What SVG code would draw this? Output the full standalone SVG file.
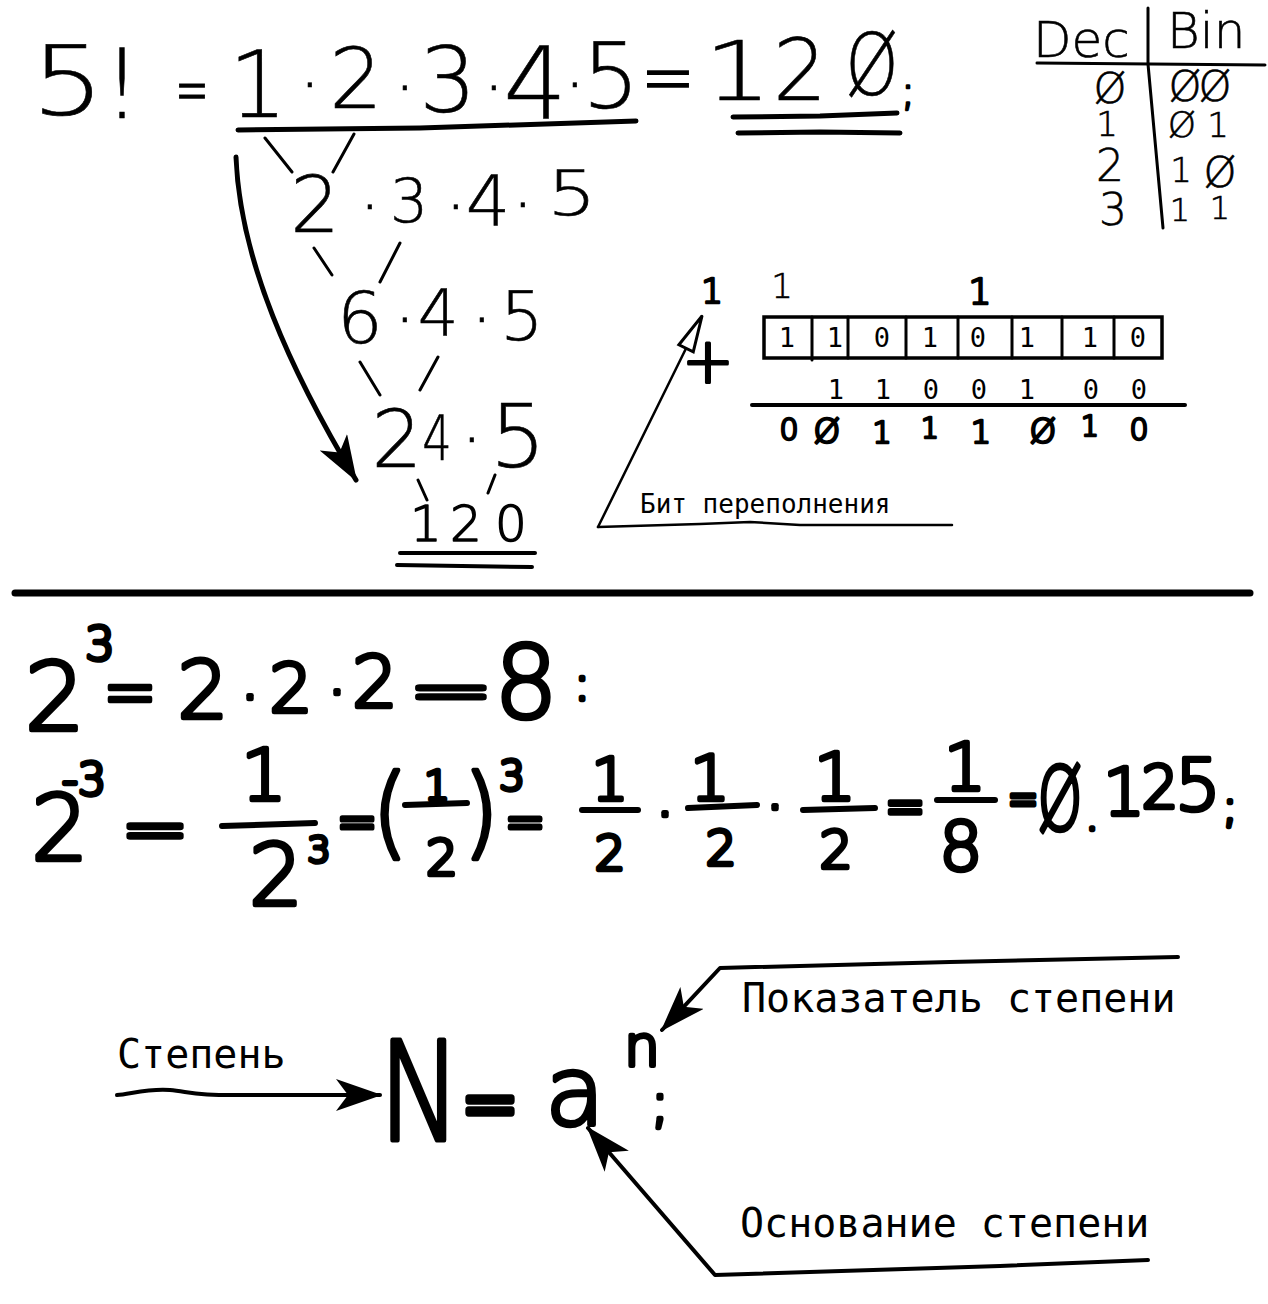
<svg xmlns="http://www.w3.org/2000/svg" width="1268" height="1304" viewBox="0 0 1268 1304">
<style>
.t{font-family:"DejaVu Sans",sans-serif;font-weight:200;fill:#000;stroke:#000;stroke-width:0.6;text-anchor:middle}
.p{font-family:"DejaVu Sans",sans-serif;font-weight:200;fill:#000;stroke:#000;stroke-width:4.5;stroke-linejoin:round;stroke-linecap:round;text-anchor:middle}
.q{font-family:"DejaVu Sans",sans-serif;font-weight:200;fill:#000;stroke:#000;stroke-width:2.6;stroke-linejoin:round;stroke-linecap:round;text-anchor:middle}
.m{font-family:"DejaVu Sans Mono",monospace;fill:#000}
.mc{font-family:"DejaVu Sans Mono",monospace;fill:#000;text-anchor:middle}
.ln{fill:none;stroke:#000;stroke-linecap:round;stroke-linejoin:round}
</style>
<defs>
<marker id="ah" viewBox="0 0 46 32" refX="44" refY="16" markerWidth="46" markerHeight="32" markerUnits="userSpaceOnUse" orient="auto"><path d="M0,0 L46,16 L0,32 L12,16 z" fill="#000"/></marker>
<marker id="oh" viewBox="-3 -3 42 22" refX="36" refY="8" markerWidth="42" markerHeight="22" markerUnits="userSpaceOnUse" orient="auto"><path d="M0,0 L36,8 L0,16 z" fill="#fff" stroke="#000" stroke-width="3"/></marker>
</defs>
<rect width="1268" height="1304" fill="#fff"/>

<g id="factorial">
<text class="t" transform="translate(68,115) scale(1.2,1)" font-size="96">5</text>
<text class="t" x="122" y="118" font-size="96">!</text>
<text class="t" transform="translate(192,91) scale(0.4,0.67)" y="33" font-size="100" style="stroke-width:2">=</text>
<text class="t" x="258" y="117" font-size="92">1</text>
<text class="t" x="310" y="108" font-size="70">·</text>
<text class="t" x="356" y="108" font-size="84">2</text>
<text class="t" x="405" y="111" font-size="70">·</text>
<text class="t" x="448" y="112" font-size="90">3</text>
<text class="t" x="494" y="111" font-size="70">·</text>
<text class="t" x="535" y="118" font-size="100">4</text>
<text class="t" x="575" y="108" font-size="70">·</text>
<text class="t" x="611" y="108" font-size="90">5</text>
<text class="t" transform="translate(668,78) scale(0.65,0.8)" y="33" font-size="100" style="stroke-width:2">=</text>
<text class="t" transform="translate(738,100) scale(1.3,1)" font-size="82">1</text>
<text class="t" x="800" y="100" font-size="85">2</text>
<text class="t" transform="translate(872,95) scale(0.8,1)" font-size="85">Ø</text>
<text class="q" x="908" y="105" font-size="40">;</text>
<path class="ln" stroke-width="5" d="M238,130 L420,128 L636,121"/>
<path class="ln" stroke-width="5" d="M733,117 L820,116 L897,113"/>
<path class="ln" stroke-width="5" d="M738,133 L820,132 L900,133"/>
</g>

<g id="factorial-tree">
<text class="t" x="315" y="232" font-size="78">2</text>
<text class="t" x="370" y="230" font-size="70">·</text>
<text class="t" x="409" y="222" font-size="60">3</text>
<text class="t" x="456" y="230" font-size="70">·</text>
<text class="t" x="488" y="225" font-size="70">4</text>
<text class="t" x="523" y="228" font-size="70">·</text>
<text class="t" transform="translate(572,215) scale(1.25,1)" font-size="62">5</text>
<text class="t" x="360" y="343" font-size="72">6</text>
<text class="t" x="405" y="343" font-size="70">·</text>
<text class="t" x="438" y="335" font-size="64">4</text>
<text class="t" x="482" y="343" font-size="70">·</text>
<text class="t" x="522" y="340" font-size="68">5</text>
<text class="t" x="397" y="467" font-size="80">2</text>
<text class="t" transform="translate(437,460) scale(0.75,1)" font-size="62">4</text>
<text class="t" x="472" y="463" font-size="70">·</text>
<text class="t" x="518" y="467" font-size="88">5</text>
<text class="q" x="426" y="541" font-size="50" style="stroke-width:1.5">1</text>
<text class="q" x="466" y="541" font-size="50" style="stroke-width:1.5">2</text>
<text class="q" x="511" y="541" font-size="50" style="stroke-width:1.5">0</text>
<path class="ln" stroke-width="4" d="M400,553 L535,553"/>
<path class="ln" stroke-width="4" d="M397,565 L532,567"/>
</g>

<g id="dec-bin-table">
<text class="t" x="1033" y="57" font-size="50" style="text-anchor:start">Dec</text>
<text class="t" x="1167" y="48" font-size="50" style="text-anchor:start">Bin</text>
<text class="t" x="1110" y="103" font-size="42">Ø</text>
<text class="t" x="1107" y="136" font-size="34">1</text>
<text class="t" x="1110" y="181" font-size="44">2</text>
<text class="t" x="1113" y="225" font-size="44">3</text>
<text class="t" x="1185" y="101" font-size="42">Ø</text>
<text class="t" x="1215" y="101" font-size="42">Ø</text>
<text class="t" x="1182" y="137" font-size="36">Ø</text>
<text class="t" x="1218" y="137" font-size="34">1</text>
<text class="t" x="1181" y="182" font-size="34">1</text>
<text class="t" x="1220" y="187" font-size="42">Ø</text>
<text class="t" x="1180" y="221" font-size="32">1</text>
<text class="t" x="1220" y="219" font-size="32">1</text>
<path class="ln" stroke-width="3" d="M1037,63 L1265,65"/>
<path class="ln" stroke-width="3" d="M1148,8 L1148,64 L1163,228"/>
</g>

<g id="binary-addition">
<text class="q" x="712" y="303" font-size="34">1</text>
<text class="t" x="782" y="298" font-size="34">1</text>
<text class="q" x="980" y="304" font-size="36">1</text>
<text class="q" x="708" y="382" font-size="62" style="stroke-width:3">+</text>
<rect x="764" y="317" width="398" height="41" fill="none" stroke="#000" stroke-width="3.5"/>
<path class="ln" stroke-width="3" d="M812,317 V360 M848,317 V358 M906,317 V358 M958,317 V358 M1012,317 V358 M1062,317 V358 M1114,317 V358"/>
<text class="mc" y="347" font-size="27" x="787 835 882 930 978 1027 1090 1138">11010110</text>
<text class="mc" y="399" font-size="27" x="836 883 931 979 1027 1091 1139">1100100</text>
<path class="ln" stroke-width="4" d="M752,405 L1185,405"/>
<text class="q" x="789" y="440" font-size="30">0</text>
<text class="q" x="827" y="443" font-size="34">Ø</text>
<text class="q" x="882" y="443" font-size="30">1</text>
<text class="q" x="930" y="438" font-size="28">1</text>
<text class="q" x="981" y="443" font-size="32">1</text>
<text class="q" x="1043" y="443" font-size="34">Ø</text>
<text class="q" x="1090" y="436" font-size="28">1</text>
<text class="q" x="1139" y="440" font-size="30">0</text>
<text class="m" x="640" y="513" font-size="26">Бит переполнения</text>
<path class="ln" stroke-width="2.5" d="M598,527 L700,524 L750,522 L800,525 L952,525"/>
</g>

<path class="ln" stroke-width="7" d="M15,593 L1250,593"/>

<g id="power-positive">
<text class="p" x="55" y="730" font-size="95">2</text>
<text class="p" x="100" y="660" font-size="46">3</text>
<text class="p" transform="translate(130,693) scale(0.65,0.74)" y="33" font-size="100" style="stroke-width:6">=</text>
<text class="p" x="203" y="718" font-size="80">2</text>
<text class="p" x="250" y="718" font-size="60">·</text>
<text class="p" x="291" y="712" font-size="68">2</text>
<text class="p" x="337" y="713" font-size="60">·</text>
<text class="p" x="375" y="707" font-size="72">2</text>
<text class="p" transform="translate(451,692) scale(1,0.56)" y="33" font-size="100" style="stroke-width:9">=</text>
<text class="p" x="526" y="718" font-size="100">8</text>
<text class="p" x="582" y="700" font-size="48">:</text>
</g>

<g id="power-negative">
<text class="p" x="60" y="860" font-size="90">2</text>
<text class="p" x="62" y="795" font-size="44" style="text-anchor:start">-3</text>
<text class="p" transform="translate(155,830) scale(0.8,0.6)" y="33" font-size="100" style="stroke-width:9">=</text>
<text class="p" x="264" y="800" font-size="72">1</text>
<path class="ln" stroke-width="6" d="M222,826 L315,823"/>
<text class="p" x="276" y="905" font-size="85">2</text>
<text class="p" x="319" y="862" font-size="36">3</text>
<text class="p" transform="translate(357,822) scale(0.48,0.52)" y="33" font-size="100" style="stroke-width:10">=</text>
<text class="p" transform="translate(390,846) scale(0.9,1)" font-size="100">(</text>
<text class="p" x="437" y="800" font-size="40">1</text>
<path class="ln" stroke-width="6" d="M405,805 L467,803"/>
<text class="p" x="442" y="875" font-size="50">2</text>
<text class="p" transform="translate(481,846) scale(0.9,1)" font-size="100">)</text>
<text class="p" x="512" y="790" font-size="40">3</text>
<text class="p" transform="translate(525,822) scale(0.48,0.5)" y="33" font-size="100" style="stroke-width:10">=</text>
<text class="p" x="610" y="800" font-size="58">1</text>
<path class="ln" stroke-width="6" d="M582,810 L638,810"/>
<text class="p" x="610" y="870" font-size="48">2</text>
<text class="p" x="665" y="835" font-size="60">·</text>
<text class="p" x="710" y="800" font-size="62">1</text>
<path class="ln" stroke-width="6" d="M688,808 L757,805"/>
<text class="p" x="721" y="865" font-size="48">2</text>
<text class="p" x="775" y="828" font-size="60">·</text>
<text class="p" x="835" y="800" font-size="66">1</text>
<path class="ln" stroke-width="6" d="M803,810 L875,808"/>
<text class="p" x="836" y="868" font-size="52">2</text>
<text class="p" transform="translate(905,807) scale(0.48,0.55)" y="33" font-size="100" style="stroke-width:10">=</text>
<text class="p" x="965" y="790" font-size="66">1</text>
<path class="ln" stroke-width="6" d="M937,800 L995,800"/>
<text class="p" x="961" y="870" font-size="68">8</text>
<text class="p" transform="translate(1023,799) scale(0.37,0.52)" y="33" font-size="100" style="stroke-width:10">=</text>
<text class="p" transform="translate(1060,830) scale(0.65,1)" font-size="88">Ø</text>
<text class="p" x="1092" y="830" font-size="40">.</text>
<text class="p" x="1124" y="815" font-size="66">1</text>
<text class="p" x="1160" y="808" font-size="58">2</text>
<text class="p" x="1198" y="810" font-size="72">5</text>
<text class="p" x="1230" y="822" font-size="44">;</text>
</g>

<g id="power-definition">
<text class="p" transform="translate(420,1140) scale(0.8,1)" font-size="137" style="stroke-width:5">N</text>
<text class="p" transform="translate(490,1105) scale(0.68,0.74)" y="33" font-size="100" style="stroke-width:10">=</text>
<text class="p" x="575" y="1125" font-size="97">a</text>
<text class="p" x="642" y="1065" font-size="56">n</text>
<text class="p" x="660" y="1122" font-size="56">;</text>
</g>

<g id="label-stepen"><text class="m" x="117" y="1068" font-size="40">Степень</text></g>
<g id="label-pokazatel"><text class="m" x="742" y="1012" font-size="40">Показатель степени</text></g>
<g id="label-osnovanie"><text class="m" x="740" y="1237" font-size="40">Основание степени</text></g>

<g id="connectors">
<path class="ln" stroke-width="3" d="M265,138 L292,172 M354,134 L333,172 M314,248 L332,275 M400,243 L380,282 M360,362 L380,395 M438,357 L420,390 M418,480 L427,500 M495,475 L488,493"/>
<path class="ln" stroke-width="5" d="M236,157 C240,260 290,370 356,480" marker-end="url(#ah)"/>
<path class="ln" stroke-width="2.5" d="M598,527 L702,316" marker-end="url(#oh)"/>
<path class="ln" stroke-width="4" d="M117,1095 C130,1094 150,1088 170,1090 S200,1096 240,1095 L380,1095" marker-end="url(#ah)"/>
<path class="ln" stroke-width="4" d="M1178,957 L950,962 L720,968 L662,1030" marker-end="url(#ah)"/>
<path class="ln" stroke-width="4" d="M1148,1260 L1000,1266 L715,1275 L588,1128" marker-end="url(#ah)"/>
</g>
</svg>
